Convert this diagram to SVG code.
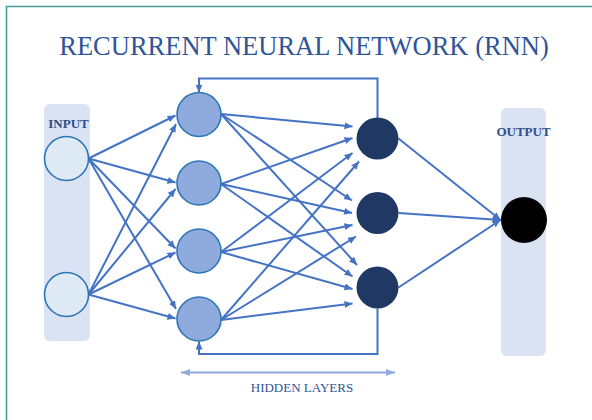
<svg xmlns="http://www.w3.org/2000/svg" width="592" height="420" viewBox="0 0 592 420">
  <defs>
    <marker id="ah" markerUnits="userSpaceOnUse" markerWidth="9" markerHeight="8" refX="8" refY="3.5" orient="auto">
      <path d="M0,0 L8,3.5 L0,7 z" fill="#4472c4"/>
    </marker>
    <marker id="ahLight" markerUnits="userSpaceOnUse" markerWidth="10" markerHeight="8" refX="9" refY="3.5" orient="auto-start-reverse">
      <path d="M0,0 L9,3.5 L0,7 z" fill="#8faadc"/>
    </marker>
    <style>
      .edge { stroke: #4472c4; stroke-width: 2; fill: none; marker-end: url(#ah); }
      .loop { stroke: #4472c4; stroke-width: 2; fill: none; marker-end: url(#ah); }
      .band { fill: #dae3f3; }
      .in { fill: #deebf7; stroke: #2e75b6; stroke-width: 1.6; }
      .h1 { fill: #8faadc; stroke: #2e75b6; stroke-width: 1.6; }
      .h2 { fill: #203864; }
      .out { fill: #000000; }
      .title { font-family: "Liberation Serif", "Times New Roman", serif; font-size: 26.5px; fill: #2f5597; }
      .lab { font-family: "Liberation Serif", "Times New Roman", serif; font-size: 13px; font-weight: bold; fill: #2f4e8c; }
      .cap { font-family: "Liberation Serif", "Times New Roman", serif; font-size: 13px; fill: #2f5597; }
    </style>
  </defs>

  <rect width="592" height="420" fill="#ffffff"/>
  <!-- frame -->
  <path d="M6.5,420 V6.5 H592" fill="none" stroke="#4a9d96" stroke-width="1.6"/>

  <text class="title" x="304" y="55" text-anchor="middle">RECURRENT NEURAL NETWORK (RNN)</text>

  <!-- layer bands -->
  <rect class="band" x="44" y="104" width="46" height="237" rx="6"/>
  <rect class="band" x="501" y="108" width="45" height="248" rx="6"/>
  <text class="lab" x="68.5" y="128" text-anchor="middle">INPUT</text>
  <text class="lab" x="523.5" y="135.5" text-anchor="middle">OUTPUT</text>

  <g id="connectors">
    <!-- input -> hidden 1 -->
    <line class="edge" x1="88.5" y1="158.5" x2="175.5" y2="115.5"/>
    <line class="edge" x1="88.5" y1="158.5" x2="175.5" y2="182.5"/>
    <line class="edge" x1="88.5" y1="158.5" x2="175.5" y2="248.5"/>
    <line class="edge" x1="88.5" y1="158.5" x2="176" y2="309"/>
    <line class="edge" x1="88.5" y1="294.5" x2="176" y2="124"/>
    <line class="edge" x1="88.5" y1="294.5" x2="175.5" y2="189"/>
    <line class="edge" x1="88.5" y1="294.5" x2="175.5" y2="252.5"/>
    <line class="edge" x1="88.5" y1="294.5" x2="175.5" y2="318.5"/>

    <!-- hidden 1 -> hidden 2 -->
    <line class="edge" x1="221" y1="114" x2="352.5" y2="126.5"/>
    <line class="edge" x1="221" y1="114" x2="352" y2="200.5"/>
    <line class="edge" x1="221" y1="114" x2="357" y2="265"/>
    <line class="edge" x1="221" y1="184" x2="352.5" y2="138"/>
    <line class="edge" x1="221" y1="184" x2="352" y2="213"/>
    <line class="edge" x1="221" y1="184" x2="352.5" y2="276.5"/>
    <line class="edge" x1="221" y1="252" x2="352.5" y2="153"/>
    <line class="edge" x1="221" y1="252" x2="352.5" y2="225"/>
    <line class="edge" x1="221" y1="252" x2="352.5" y2="289"/>
    <line class="edge" x1="221" y1="320" x2="359" y2="161.5"/>
    <line class="edge" x1="221" y1="320" x2="356" y2="236.5"/>
    <line class="edge" x1="221" y1="320" x2="352.5" y2="303.5"/>

    <!-- hidden 2 -> output -->
    <line class="edge" x1="398.5" y1="138.5" x2="500.5" y2="220"/>
    <line class="edge" x1="398.5" y1="213" x2="500.5" y2="220"/>
    <line class="edge" x1="398.5" y1="287.5" x2="500.5" y2="220"/>

    <!-- recurrent feedback -->
    <path class="loop" d="M377.5,118 V78.5 H199 V92.5"/>
    <path class="loop" d="M377.5,308.5 V354 H199 V341.5"/>

    <!-- hidden layer span -->
    <line x1="181" y1="372.5" x2="395" y2="372.5" stroke="#8faadc" stroke-width="2" marker-start="url(#ahLight)" marker-end="url(#ahLight)"/>
  </g>

  <g id="input-1"><circle class="in" cx="66.5" cy="158.5" r="22"/></g>
  <g id="input-2"><circle class="in" cx="66.5" cy="294.5" r="22"/></g>

  <g id="hidden-a1"><circle class="h1" cx="199" cy="114.5" r="22"/></g>
  <g id="hidden-a2"><circle class="h1" cx="199" cy="183" r="22"/></g>
  <g id="hidden-a3"><circle class="h1" cx="199" cy="251" r="22"/></g>
  <g id="hidden-a4"><circle class="h1" cx="199" cy="319" r="22"/></g>

  <g id="hidden-b1"><circle class="h2" cx="377.5" cy="138.5" r="21"/></g>
  <g id="hidden-b2"><circle class="h2" cx="377.5" cy="213" r="21"/></g>
  <g id="hidden-b3"><circle class="h2" cx="377.5" cy="287.5" r="21"/></g>

  <g id="output"><circle class="out" cx="524" cy="220" r="23"/></g>

  <text class="cap" x="302" y="391.5" text-anchor="middle">HIDDEN LAYERS</text>
</svg>
